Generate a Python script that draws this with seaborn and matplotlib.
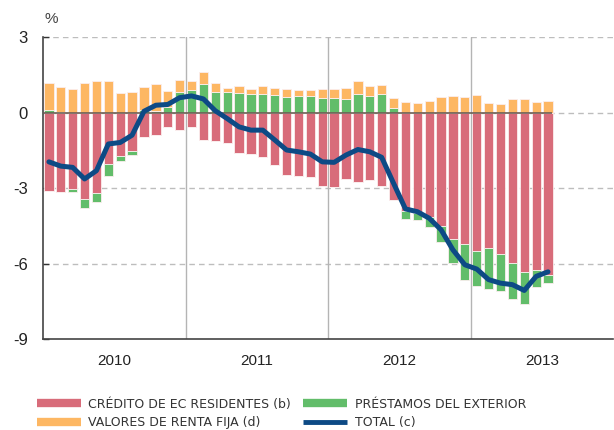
import numpy as np
import pandas as pd
import matplotlib
matplotlib.use("Agg")
import matplotlib.pyplot as plt
import seaborn as sns
from matplotlib.lines import Line2D

# =========================
# DATA (monthly, Jan 2010 - Jul 2013)
# =========================
years = ["2010", "2011", "2012", "2013"]

credito = [-3.13, -3.14, -3.05, -3.43, -3.18, -2.06, -1.73, -1.52, -0.99, -0.90, -0.57, -0.71,
           -0.58, -1.11, -1.14, -1.23, -1.62, -1.66, -1.76, -2.09, -2.48, -2.52, -2.58, -2.93,
           -2.95, -2.64, -2.77, -2.69, -2.91, -3.46, -3.91, -4.00, -4.16, -4.49, -5.03, -5.23,
           -5.51, -5.40, -5.63, -5.97, -6.34, -6.26, -6.46]
prestamos = [0.10, 0.02, -0.10, -0.38, -0.38, -0.46, -0.21, -0.16, 0.12, 0.05, 0.22, 0.81,
             0.90, 1.14, 0.81, 0.81, 0.78, 0.73, 0.73, 0.69, 0.62, 0.65, 0.66, 0.59,
             0.57, 0.54, 0.74, 0.67, 0.74, 0.16, -0.33, -0.29, -0.37, -0.65, -0.95, -1.44,
             -1.39, -1.60, -1.48, -1.43, -1.27, -0.67, -0.33]
valores = [1.08, 1.00, 0.95, 1.16, 1.25, 1.27, 0.77, 0.81, 0.91, 1.09, 0.63, 0.47,
           0.36, 0.46, 0.38, 0.18, 0.26, 0.22, 0.31, 0.30, 0.33, 0.24, 0.23, 0.33,
           0.38, 0.42, 0.50, 0.40, 0.34, 0.42, 0.40, 0.38, 0.44, 0.61, 0.66, 0.61,
           0.69, 0.37, 0.32, 0.53, 0.53, 0.41, 0.45]
total = [-1.96, -2.13, -2.18, -2.64, -2.31, -1.25, -1.19, -0.90, 0.05, 0.29, 0.32, 0.59,
         0.66, 0.54, 0.07, -0.24, -0.57, -0.70, -0.70, -1.09, -1.49, -1.56, -1.65, -1.96,
         -1.98, -1.69, -1.47, -1.56, -1.78, -2.81, -3.83, -3.94, -4.20, -4.66, -5.46, -6.05,
         -6.22, -6.64, -6.78, -6.84, -7.07, -6.51, -6.33]

labels = ["CRÉDITO DE EC RESIDENTES (b)", "VALORES DE RENTA FIJA (d)",
          "PRÉSTAMOS DEL EXTERIOR", "TOTAL (c)"]

RED = "#d86c7a"
GREEN = "#62bd6a"
ORANGE = "#fdb763"
BLUE = "#0d4a85"

df = pd.DataFrame({"mes": np.arange(len(total)), "credito": credito,
                   "prestamos": prestamos, "valores": valores, "total": total})
df["prest_pos"] = df["prestamos"].clip(lower=0)
df["prest_neg"] = df["prestamos"].clip(upper=0)

sns.set_theme(style="white")
plt.rcParams["font.family"] = ["Liberation Sans", "DejaVu Sans"]

fig = plt.figure(figsize=(6.14, 4.3), dpi=100)
ax = fig.add_axes([0.070, 0.2116, 0.929, 0.7023])

bar_kw = dict(width=0.78, edgecolor="#fbeeee", linewidth=0.6, saturation=1, ax=ax)

# positive stack: prestamos (if > 0) + valores
sns.barplot(data=df, x="mes", y="prest_pos", color=GREEN, **bar_kw)
sns.barplot(data=df, x="mes", y="valores", bottom=df["prest_pos"], color=ORANGE, **bar_kw)
# negative stack: credito + prestamos (if < 0)
sns.barplot(data=df, x="mes", y="credito", color=RED, **bar_kw)
sns.barplot(data=df, x="mes", y="prest_neg", bottom=df["credito"], color=GREEN, **bar_kw)

sns.lineplot(data=df, x="mes", y="total", color=BLUE, linewidth=3.6, ax=ax, zorder=5)

# gridlines / reference lines
for yv in [3, 0, -3, -6]:
    ax.axhline(yv, color="#bdbdbd", lw=1, ls=(0, (4, 3)), zorder=0)
ax.hlines(0, -0.5, len(total) - 0.7, color="#6e5f55", lw=1.2, zorder=4)

n_years = len(years)
for i in range(1, n_years):
    ax.axvline(12 * i - 0.5, color="#b4b4b4", lw=1, zorder=0)

ax.set_xlim(-0.5, 12 * n_years - 0.5)
ax.set_ylim(-9, 3)
ax.set_yticks([3, 0, -3, -6, -9])
ax.set_yticklabels(["3", "0", "-3", "-6", "-9"])

ax.set_xticks([12 * i - 0.5 for i in range(1, n_years)])
ax.set_xticklabels([])
ax.set_xticks([12 * i + 5.5 for i in range(n_years)], minor=True)
ax.set_xticklabels(years, minor=True)
ax.tick_params(axis="x", which="major", direction="in", length=4, width=1, color="#333333")
ax.tick_params(axis="x", which="minor", length=0, pad=11, labelsize=11, labelcolor="#222222")
ax.tick_params(axis="y", direction="in", length=4, width=1, color="#333333",
               pad=11, labelsize=12, labelcolor="#222222", left=True)

for s in ["top", "right"]:
    ax.spines[s].set_visible(False)
for s in ["left", "bottom"]:
    ax.spines[s].set_color("#444444")
    ax.spines[s].set_linewidth(1.2)

ax.set_xlabel("")
ax.set_ylabel("")
fig.text(0.072, 0.955, "%", fontsize=11, color="#444444", ha="left", va="center")

handles = [Line2D([], [], color=RED, lw=6, solid_capstyle="butt"),
           Line2D([], [], color=ORANGE, lw=6, solid_capstyle="butt"),
           Line2D([], [], color=GREEN, lw=6, solid_capstyle="butt"),
           Line2D([], [], color=BLUE, lw=3.5, solid_capstyle="butt")]
leg = fig.legend(handles, labels, ncol=2, loc="upper left", bbox_to_anchor=(0.052, 0.087),
                 frameon=False, handlelength=3.5, handletextpad=0.6, columnspacing=1.0,
                 labelspacing=0.45, borderaxespad=0,
                 prop={"family": "DejaVu Sans", "size": 9})
for t in leg.get_texts():
    t.set_color("#333333")

fig.savefig("out.png", dpi=100)
